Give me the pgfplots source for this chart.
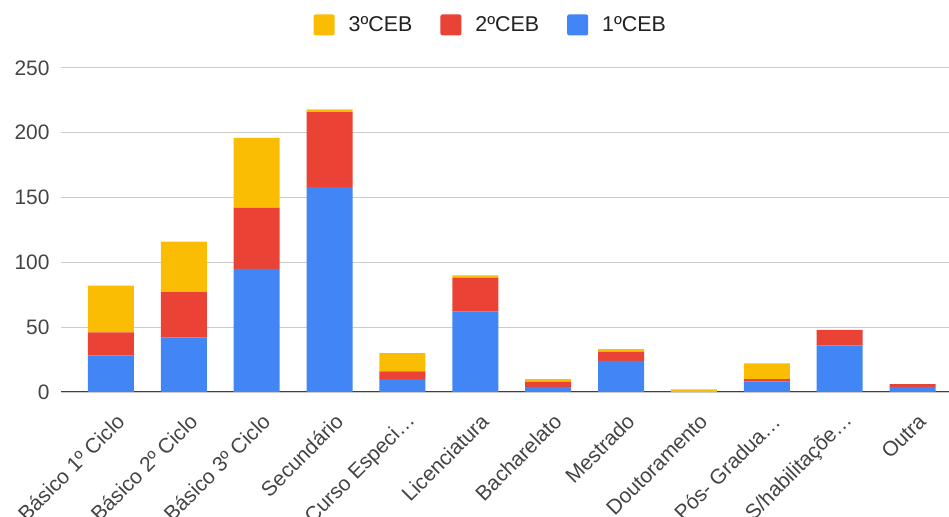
\documentclass[border=0pt]{standalone}
\usepackage{pgfplots}
\pgfplotsset{compat=1.18}
\usepackage{fontspec}
\setmainfont{Liberation Sans}
\definecolor{cblue}{HTML}{4285F4}
\definecolor{cred}{HTML}{EA4335}
\definecolor{cyellow}{HTML}{FBBC04}
\definecolor{tickgray}{HTML}{444444}
\definecolor{legtext}{HTML}{222222}
\definecolor{gridgray}{HTML}{CCCCCC}
\begin{document}
\begin{tikzpicture}
\useasboundingbox (0,0) rectangle (949bp,517bp);
\begin{axis}[
  at={(61bp,125bp)}, anchor=south west,
  scale only axis, width=888bp, height=324bp,
  ybar stacked, bar width=46bp,
  xmin=-0.686, xmax=11.5, ymin=0, ymax=250,
  ytick={0,50,100,150,200,250},
  xtick={0,...,11},
  xticklabels={Básico 1º Ciclo, Básico 2º Ciclo, Básico 3º Ciclo, Secundário, Curso Especi…, Licenciatura, Bacharelato, Mestrado, Doutoramento, Pós- Gradua…, S/habilitaçõe…, Outra},
  major tick length=0pt,
  axis y line*=none, axis x line*=bottom,
  axis line style={draw=none},
  ymajorgrids, grid style={gridgray, line width=1bp},
  font=\fontsize{21}{25}\selectfont,
  /pgf/number format/assume math mode=true,
  yticklabel style={text=tickgray, xshift=-8bp},
  xticklabel style={text=tickgray, rotate=45, anchor=east, xshift=-8bp, yshift=-25bp},
  legend style={draw=none, at={(0.484,1.133)}, anchor=center, legend columns=-1,
    text=legtext, font=\fontsize{21.5}{25}\selectfont,
    /tikz/every even column/.append style={column sep=26bp},
    /tikz/every odd column/.append style={column sep=12bp}},
  legend image code/.code={\fill[#1, rounded corners=2bp] (0bp,-10.5bp) rectangle (21bp,10.5bp);},
]
\addlegendimage{fill=cyellow, draw=none}
\addlegendentry{3ºCEB}
\addlegendimage{fill=cred, draw=none}
\addlegendentry{2ºCEB}
\addlegendimage{fill=cblue, draw=none}
\addlegendentry{1ºCEB}
\addplot[fill=cblue, draw=none, forget plot] coordinates {(0,28) (1,42) (2,95) (3,158) (4,10) (5,62) (6,4) (7,24) (8,0) (9,8) (10,36) (11,4)};
\addplot[fill=cred, draw=none, forget plot] coordinates {(0,18) (1,35) (2,47) (3,58) (4,6) (5,26) (6,4) (7,7) (8,0) (9,2) (10,12) (11,2)};
\addplot[fill=cyellow, draw=none, forget plot] coordinates {(0,36) (1,39) (2,54) (3,2) (4,14) (5,2) (6,2) (7,2) (8,2) (9,12) (10,0) (11,0)};
\draw[color=black!75, line width=1.5bp] (axis cs:-0.686,0) -- (axis cs:11.5,0);
\end{axis}
\end{tikzpicture}
\end{document}
